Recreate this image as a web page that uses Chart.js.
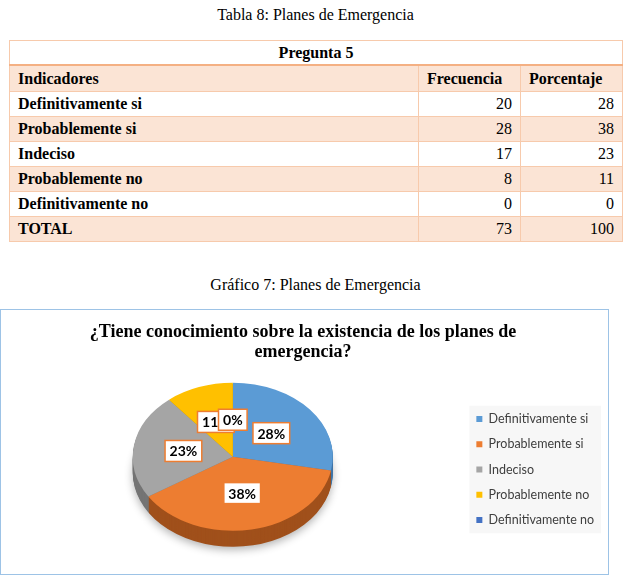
<!DOCTYPE html>
<html lang="es">
<head>
<meta charset="utf-8">
<script src="https://cdn.jsdelivr.net/npm/chart.js@4.4.0/dist/chart.umd.min.js"></script>
<style>
  body { margin: 0; width: 624px; height: 587px; background: #fff; position: relative; font-family: "Liberation Serif", serif; color: #000; overflow: hidden; }
  .caption { position: absolute; left: 9px; width: 613px; text-align: center; font-size: 16px; line-height: 20px; }
  #tabla { position: absolute; left: 9px; top: 40px; width: 613px; border-collapse: collapse; font-size: 16px; table-layout: fixed; }
  #tabla th, #tabla td { border: 1px solid #F7CAAC; padding: 0 8px; height: 24px; line-height: 18px; font-weight: bold; text-align: left; }
  #tabla td.num { font-weight: normal; text-align: right; }
  #tabla tr.preg th { text-align: center; border-bottom: 2px solid #F4B083; height: 23px; }
  #tabla tr.peach th, #tabla tr.peach td { background: #FBE4D5; }
  #tabla tr.enc th { height: 25px; }
  #marco { position: absolute; left: 0; top: 309px; width: 607px; height: 264px; border: 1px solid #9DC3E6; }
</style>
</head>
<body>
<div class="caption" style="top:5px">Tabla 8: Planes de Emergencia</div>
<table id="tabla">
  <colgroup><col style="width:409px"><col style="width:102px"><col style="width:102px"></colgroup>
  <thead>
    <tr class="preg"><th colspan="3">Pregunta 5</th></tr>
    <tr class="enc peach"><th>Indicadores</th><th>Frecuencia</th><th>Porcentaje</th></tr>
  </thead>
  <tbody id="cuerpo"></tbody>
</table>
<div class="caption" style="top:275px">Gráfico 7: Planes de Emergencia</div>
<div id="marco"><canvas id="grafico" width="607" height="264"></canvas></div>
<script>
const indicadores = ['Definitivamente si', 'Probablemente si', 'Indeciso', 'Probablemente no', 'Definitivamente no'];
const frecuencia = [20, 28, 17, 8, 0];
const porcentaje = [28, 38, 23, 11, 0];
const totalFrecuencia = 73;
const totalPorcentaje = 100;
const colores = ['#5B9BD5', '#ED7D31', '#A5A5A5', '#FFC000', '#4472C4'];
const lados = ['#3F75A8', '#A0501B', '#747474', '#B88A00', '#2F5597'];

// tabla
const cuerpo = document.getElementById('cuerpo');
const filas = indicadores.map((ind, i) => [ind, frecuencia[i], porcentaje[i]]);
filas.push(['TOTAL', totalFrecuencia, totalPorcentaje]);
filas.forEach((f, i) => {
  const tr = document.createElement('tr');
  if (i % 2 === 1) tr.className = 'peach';
  tr.innerHTML = '<td>' + f[0] + '</td><td class="num">' + f[1] + '</td><td class="num">' + f[2] + '</td>';
  cuerpo.appendChild(tr);
});

// pastel inclinado
const inclinacion = 0.74;
const grosor = 16;

const pie3d = {
  id: 'pie3d',
  beforeDatasetsDraw(chart) {
    const ctx = chart.ctx;
    const arcs = chart.getDatasetMeta(0).data;
    const cx = arcs[0].x, cy = arcs[0].y;
    ctx.save();
    ctx.translate(cx, cy);
    ctx.scale(1, inclinacion);
    ctx.translate(-cx, -cy);
    for (let d = grosor; d > 0; d--) {
      arcs.forEach((arc, i) => {
        if (arc.endAngle - arc.startAngle <= 0) return;
        const off = d / inclinacion;
        ctx.save();
        if (d === grosor) {
          ctx.shadowColor = 'rgba(0,0,0,0.3)';
          ctx.shadowBlur = 8;
          ctx.shadowOffsetY = 3;
        }
        ctx.beginPath();
        ctx.moveTo(arc.x, arc.y + off);
        ctx.arc(arc.x, arc.y + off, arc.outerRadius, arc.startAngle, arc.endAngle);
        ctx.closePath();
        ctx.fillStyle = lados[i];
        ctx.fill();
        ctx.restore();
      });
    }
  },
  afterDatasetsDraw(chart) {
    chart.ctx.restore();
  }
};

const fondoLeyenda = {
  id: 'fondoLeyenda',
  beforeDraw(chart) {
    const cajas = chart.legend.legendHitBoxes;
    if (!cajas || !cajas.length) return;
    const x0 = Math.min(...cajas.map(c => c.left)) - 7;
    const y0 = Math.min(...cajas.map(c => c.top)) - 7;
    const x1 = Math.max(...cajas.map(c => c.left + c.width)) + 7;
    const y1 = Math.max(...cajas.map(c => c.top + c.height)) + 7;
    chart.ctx.save();
    chart.ctx.fillStyle = '#F7F7F7';
    chart.ctx.fillRect(x0, y0, x1 - x0, y1 - y0);
    chart.ctx.restore();
  }
};

const etiquetas = {
  id: 'etiquetas',
  afterDraw(chart) {
    const ctx = chart.ctx;
    const arcs = chart.getDatasetMeta(0).data;
    ctx.save();
    ctx.font = 'bold 14px Lato';
    ctx.textAlign = 'center';
    ctx.textBaseline = 'middle';
    arcs.forEach((arc, i) => {
      const p = arc.getCenterPoint();
      const x = p.x;
      const y = arc.y + (p.y - arc.y) * inclinacion;
      const txt = porcentaje[i] + '%';
      const w = ctx.measureText(txt).width + 9;
      const h = 21;
      ctx.fillStyle = '#fff';
      ctx.fillRect(x - w / 2, y - h / 2, w, h);
      ctx.strokeStyle = '#ED7D31';
      ctx.lineWidth = 1.5;
      ctx.strokeRect(x - w / 2, y - h / 2, w, h);
      ctx.fillStyle = '#000';
      ctx.fillText(txt, x, y + 1);
    });
    ctx.restore();
  }
};

new Chart(document.getElementById('grafico'), {
  type: 'pie',
  data: {
    labels: indicadores,
    datasets: [{ data: porcentaje, backgroundColor: colores, borderWidth: 0 }]
  },
  options: {
    responsive: false,
    animation: false,
    radius: 100,
    layout: { padding: { left: 1, right: 4, top: 0, bottom: 35 } },
    plugins: {
      title: {
        display: true,
        text: ['¿Tiene conocimiento sobre la existencia de los planes de', 'emergencia?'],
        color: '#000',
        font: { family: 'Liberation Serif', size: 18, weight: 'bold', lineHeight: 1.125 },
        padding: { top: 12, bottom: 12 }
      },
      legend: {
        position: 'right',
        align: 'end',
        labels: { boxWidth: 6, boxHeight: 6, padding: 12.75, color: '#404040', font: { family: 'Lato', size: 12.5 } }
      },
      tooltip: { enabled: false }
    }
  },
  plugins: [fondoLeyenda, pie3d, etiquetas]
});
</script>
</body>
</html>
